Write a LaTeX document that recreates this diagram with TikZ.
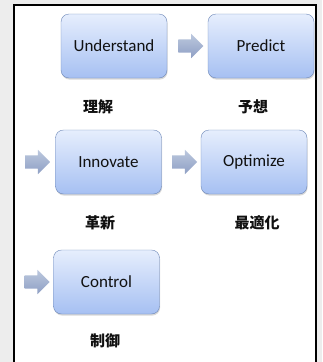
\documentclass[tikz,border=0pt]{standalone}
\usepackage{fontspec}
\setmainfont{Carlito}
\newfontfamily\jpfont{Noto Sans CJK JP}
\usetikzlibrary{positioning,calc}
\usetikzlibrary{shapes.arrows,shadows}
\usepackage{xcolor}
\definecolor{boxTop}{HTML}{E6EEFD}
\definecolor{boxBottom}{HTML}{A6C0F2}
\definecolor{boxEdge}{HTML}{6E88B8}
\definecolor{arrowTop}{HTML}{BCC8DE}
\definecolor{arrowBottom}{HTML}{8E9FC4}
\definecolor{pageGray}{HTML}{EDEDED}
\definecolor{inkText}{HTML}{111111}
\tikzset{
    stagebox/.style={
        draw=boxEdge,thin,rounded corners=8pt,
        top color=boxTop,bottom color=boxBottom,
        minimum width=106pt,minimum height=64pt,text=inkText,
        font=\fontsize{17}{20}\selectfont,
        drop shadow={opacity=0.3,shadow xshift=0.6pt,shadow yshift=-1.6pt}
    },
    flowarrow/.style={
        single arrow,draw=none,inner sep=0pt,
        top color=arrowTop,bottom color=arrowBottom,
        minimum height=25pt,
        single arrow head extend=5.5pt,single arrow tip angle=90
    },
    jlabel/.style={
        font=\jpfont\bfseries\fontsize{15}{18}\selectfont,text=inkText
    }
}
\newcommand{\shaft}{\rule{0pt}{13pt}}

\begin{document}
\begin{tikzpicture}[x=1pt,y=-1pt]

\useasboundingbox (0,0) rectangle (322,362);
\clip (0,0) rectangle (322,362);
\fill[pageGray] (0,0) rectangle (322,362);
\filldraw[fill=white,draw=black,line width=1.3pt]
(14,372) -- (14,5) -- (316,5) -- (316,372);

\node[stagebox] (und) at (114,46){Understand};
\node[stagebox] (pre) at (261,46){Predict};
\node[stagebox] (inn) at (108.5,162){Innovate};
\node[stagebox] (opt) at (254,162){Optimize};
\node[stagebox] (con) at (106.5,282){Control};

\node[flowarrow] (a1) at ($(und.east)!0.5!(pre.west)$){\shaft};
\node[flowarrow] (a2) at ($(inn.west)+(-21,0)$){\shaft};
\node[flowarrow] (a3) at ($(inn.east)!0.5!(opt.west)$){\shaft};
\node[flowarrow] (a4) at ($(con.west)+(-19.5,0)$){\shaft};

\node[jlabel] (l1) at (98,107){理解};
\node[jlabel] (l2) at (253,107){予想};
\node[jlabel] (l3) at (100,223){革新};
\node[jlabel] (l4) at (257,223){最適化};
\node[jlabel] (l5) at (105,341){制御};

\end{tikzpicture}
\end{document}
